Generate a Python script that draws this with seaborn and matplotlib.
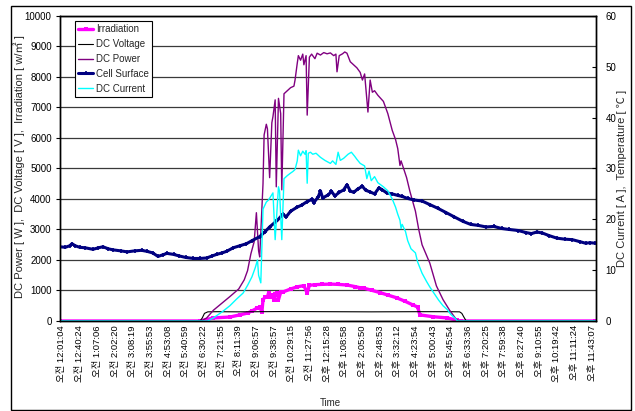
import matplotlib
matplotlib.use("Agg")
import matplotlib.pyplot as plt
from matplotlib.ticker import MultipleLocator
from matplotlib.patches import Rectangle
import seaborn as sns

# ---- time axis: one label every 16 logged samples ----
time_labels = [
    "오전 12:01:04", "오전 12:40:24", "오전 1:07:06", "오전 2:02:20", "오전 3:08:19",
    "오전 3:55:53", "오전 4:53:08", "오전 5:40:59", "오전 6:30:22", "오전 7:21:55",
    "오전 8:11:39", "오전 9:06:57", "오전 9:38:57", "오전 10:29:15", "오전 11:27:56",
    "오후 12:15:28", "오후 1:08:58", "오후 2:05:50", "오후 2:48:53", "오후 3:32:12",
    "오후 4:23:54", "오후 5:00:43", "오후 5:45:54", "오후 6:33:36", "오후 7:20:25",
    "오후 7:59:38", "오후 8:27:40", "오후 9:10:55", "오후 10:19:42", "오후 11:11:24",
    "오후 11:43:07",
]
SAMPLES_PER_LABEL = 16

# ---- Irradiation [W/m2] ----
irr_sample = [-2, 125, 137, 152, 161, 168, 172, 177, 179, 181, 182, 184, 186, 187, 188,
              190, 192, 193, 195, 196, 198, 200, 207, 213, 219, 222, 224, 229, 235, 243,
              250, 258, 265, 270, 273, 281, 288, 295, 303, 311, 318, 322, 324, 336, 349,
              358, 361, 483]
irr_value = [0, 0, 100, 130, 200, 260, 330, 430, 460, 300, 690, 800, 780, 920, 800,
             850, 690, 900, 930, 700, 940, 950, 1050, 1120, 1160, 920, 1170, 1190, 1200, 1210,
             1200, 1180, 1130, 1090, 1080, 1000, 930, 850, 760, 640, 520, 460, 200, 140, 100,
             20, 0, 0]

# ---- DC Voltage [V] ----
volt_sample = [-2, 125, 127, 129, 132, 140, 160, 200, 240, 280, 320, 350, 360, 362, 364, 366, 483]
volt_value = [0, 0, 100, 250, 300, 305, 300, 310, 305, 300, 305, 305, 300, 250, 120, 0, 0]

# ---- DC Power [W] ----
pow_sample = [-2, 126, 131, 137, 144, 152, 160, 165, 168, 171, 174, 176, 178, 179, 182,
              183, 185, 186, 188, 190, 191, 193, 194, 196, 198, 199, 201, 204, 207, 210,
              211, 213, 214, 216, 218, 219, 221, 222, 224, 226, 229, 231, 234, 237, 240,
              243, 246, 248, 249, 251, 254, 256, 258, 261, 264, 267, 270, 272, 274, 277,
              279, 281, 283, 286, 291, 295, 299, 302, 304, 306, 307, 312, 315, 320, 323,
              326, 333, 339, 345, 351, 357, 360, 483]
pow_value = [0, 0, 100, 350, 560, 800, 1050, 1350, 1650, 2200, 2600, 3550, 2300, 2100, 4500,
             6100, 6450, 6300, 4700, 6500, 6700, 7250, 4400, 7300, 6800, 4300, 7450, 7550, 7650, 7700,
             7900, 8450, 8700, 8550, 8750, 8400, 8700, 6750, 8650, 8750, 8600, 8780, 8720, 8800, 8760,
             8790, 8700, 8750, 8170, 8700, 8760, 8820, 8780, 8500, 8400, 8300, 8150, 7900, 8100, 6850,
             7900, 7500, 7550, 7400, 7200, 6800, 6250, 5950, 5650, 5100, 5250, 4700, 4250, 3600, 3000,
             2500, 1900, 1150, 700, 350, 50, 0, 0]

# ---- Cell Surface temperature [degC] ----
cell_sample = [-2, 3, 7, 9, 12, 16, 21, 28, 33, 37, 42, 46, 53, 59, 66,
               72, 77, 82, 87, 91, 95, 101, 106, 112, 119, 125, 131, 136, 140, 145,
               149, 155, 161, 167, 172, 179, 184, 188, 195, 200, 203, 207, 213, 217, 222,
               226, 228, 232, 234, 236, 241, 244, 247, 251, 255, 258, 261, 264, 268, 272,
               275, 279, 283, 287, 290, 294, 299, 304, 308, 313, 319, 326, 333, 340, 348,
               355, 363, 370, 377, 384, 391, 398, 405, 413, 420, 425, 430, 435, 441, 448,
               455, 462, 469, 474, 478, 483]
cell_value = [14.6, 14.5, 14.8, 15.2, 14.8, 14.5, 14.4, 14.1, 14.4, 14.6, 14.2, 14.0, 13.8, 13.6, 13.8,
              13.9, 13.7, 13.4, 12.7, 13.0, 13.3, 13.1, 12.8, 12.5, 12.3, 12.3, 12.4, 12.8, 13.1, 13.4,
              13.7, 14.4, 14.8, 15.2, 15.8, 16.6, 17.6, 18.5, 19.8, 21.0, 20.5, 21.6, 22.4, 22.8, 23.5,
              23.9, 23.3, 24.4, 25.6, 24.2, 24.8, 25.5, 24.6, 25.3, 25.8, 26.8, 25.6, 25.3, 26.0, 26.5,
              25.7, 25.4, 25.0, 26.2, 25.8, 25.2, 25.0, 24.7, 24.5, 24.1, 23.8, 23.6, 22.9, 22.2, 21.3,
              20.5, 19.6, 19.0, 18.8, 18.5, 18.6, 18.2, 18.0, 17.8, 17.4, 17.2, 17.5, 17.3, 16.8, 16.3,
              16.1, 16.0, 15.6, 15.3, 15.4, 15.3]

# ---- DC Current [A] ----
cur_sample = [-2, 132, 137, 145, 152, 158, 164, 168, 172, 175, 177, 178, 180, 182, 185,
              187, 189, 191, 193, 196, 197, 199, 201, 204, 207, 209, 211, 213, 214, 216,
              218, 220, 221, 222, 223, 225, 227, 230, 234, 238, 243, 245, 248, 250, 252,
              255, 259, 262, 265, 267, 270, 274, 276, 278, 280, 283, 286, 291, 295, 299,
              302, 304, 306, 307, 308, 311, 313, 316, 320, 322, 326, 330, 333, 337, 341,
              345, 349, 352, 356, 358, 483]
cur_value = [0, 0, 0.6, 1.8, 3.0, 4.3, 5.5, 7.0, 8.7, 10.5, 12.0, 9.0, 7.5, 22.0, 23.4,
             23.8, 24.5, 25.2, 16.0, 26.4, 25.5, 16.0, 28.0, 28.6, 29.1, 29.4, 29.8, 31.5, 33.6, 32.5,
             33.4, 32.8, 33.5, 27.1, 33.0, 33.2, 32.8, 33.0, 32.2, 31.6, 31.0, 31.5, 30.8, 33.2, 31.6,
             32.0, 32.8, 33.2, 32.4, 31.8, 31.0, 30.5, 28.0, 29.5, 27.6, 28.4, 27.2, 26.4, 25.6, 24.0,
             22.4, 21.0, 19.8, 18.2, 19.0, 17.6, 15.8, 14.2, 13.4, 11.6, 9.4, 7.8, 6.7, 5.4, 4.1,
             3.0, 2.2, 1.3, 0.5, 0, 0]

sns.set_style("white")
plt.rcParams["font.family"] = ["Liberation Sans", "Noto Sans CJK KR"]
plt.rcParams["axes.unicode_minus"] = False

fig = plt.figure(figsize=(6.35, 4.11), dpi=100)
ax = fig.add_axes([0.0945, 0.219, 0.8441, 0.7421])
ax2 = ax.twinx()

# primary axis: power, voltage, irradiation
sns.lineplot(x=irr_sample, y=irr_value, ax=ax, color="#FF00FF", lw=2.4,
             marker="s", markersize=2.5, markeredgewidth=0, markeredgecolor="#FF00FF",
             label="Irradiation", estimator=None, sort=False)
sns.lineplot(x=volt_sample, y=volt_value, ax=ax, color="black", lw=0.8,
             label="DC Voltage", estimator=None, sort=False)
sns.lineplot(x=pow_sample, y=pow_value, ax=ax, color="#800080", lw=1.0,
             label="DC Power", estimator=None, sort=False)

# secondary axis: temperature and current
sns.lineplot(x=cell_sample, y=cell_value, ax=ax2, color="#000080", lw=2.2,
             marker="+", markersize=3.5, markeredgewidth=1.2, markeredgecolor="#000080",
             label="Cell Surface", estimator=None, sort=False)
sns.lineplot(x=cur_sample, y=cur_value, ax=ax2, color="#00FFFF", lw=1.0,
             label="DC Current", estimator=None, sort=False)

for a in (ax, ax2):
    if a.get_legend() is not None:
        a.get_legend().remove()

# axes ranges and ticks
ax.set_xlim(-1.8, 483.5)
ax.set_ylim(0, 10000)
ax2.set_ylim(0, 60)
ax.set_yticks(range(0, 10001, 1000))
ax2.set_yticks(range(0, 61, 10))
ax.set_xticks([i * SAMPLES_PER_LABEL for i in range(len(time_labels))])
ax.set_xticklabels(time_labels, rotation=90, fontsize=6.8)
ax.xaxis.set_minor_locator(MultipleLocator(3))
ax.tick_params(axis="x", which="both", direction="in", length=4, width=1.0, pad=3,
               colors="black")
ax.tick_params(axis="y", direction="out", length=3, width=0.8, pad=3, labelsize=7,
               colors="black")
ax2.tick_params(axis="y", direction="in", length=3, width=0.8, pad=7, labelsize=7,
                colors="black")

ax.set_axisbelow(True)
ax.yaxis.grid(True, color="#3a3a3a", lw=0.9)
ax.xaxis.grid(False)
ax2.grid(False)
for a in (ax, ax2):
    for sp in a.spines.values():
        sp.set_color("black")
        sp.set_linewidth(1.0)
        sp.set_visible(True)

ax.set_xlabel("Time", fontsize=7)
ax.xaxis.set_label_coords(0.504, -0.2525)
ax.set_ylabel("DC Power [ W ],  DC Voltage [ V ],  Irradiation [ w/㎡ ]", fontsize=8,
              ha="center", va="center")
ax.yaxis.set_label_coords(-0.0765, 0.505)
ax2.set_ylabel("DC Current [ A ],  Temperature [ ℃ ]", fontsize=8, ha="center", va="center")
ax2.yaxis.set_label_coords(1.0485, 0.466)

# combined legend for both axes
h1, l1 = ax.get_legend_handles_labels()
h2, l2 = ax2.get_legend_handles_labels()
leg = ax2.legend(h1 + h2, l1 + l2, loc="upper left", bbox_to_anchor=(0.028, 0.984),
                 borderaxespad=0, fontsize=7, frameon=True, fancybox=False,
                 edgecolor="black", framealpha=1, handlelength=1.5,
                 labelspacing=0.5, borderpad=0.35, handletextpad=0.3)
leg.get_frame().set_linewidth(0.8)

# chart-area border
fig.add_artist(Rectangle((11 / 635, 1 / 411), 620 / 635, 404 / 411,
                         transform=fig.transFigure, fill=False, ec="black", lw=1.0))

fig.savefig("out.png", dpi=100)
